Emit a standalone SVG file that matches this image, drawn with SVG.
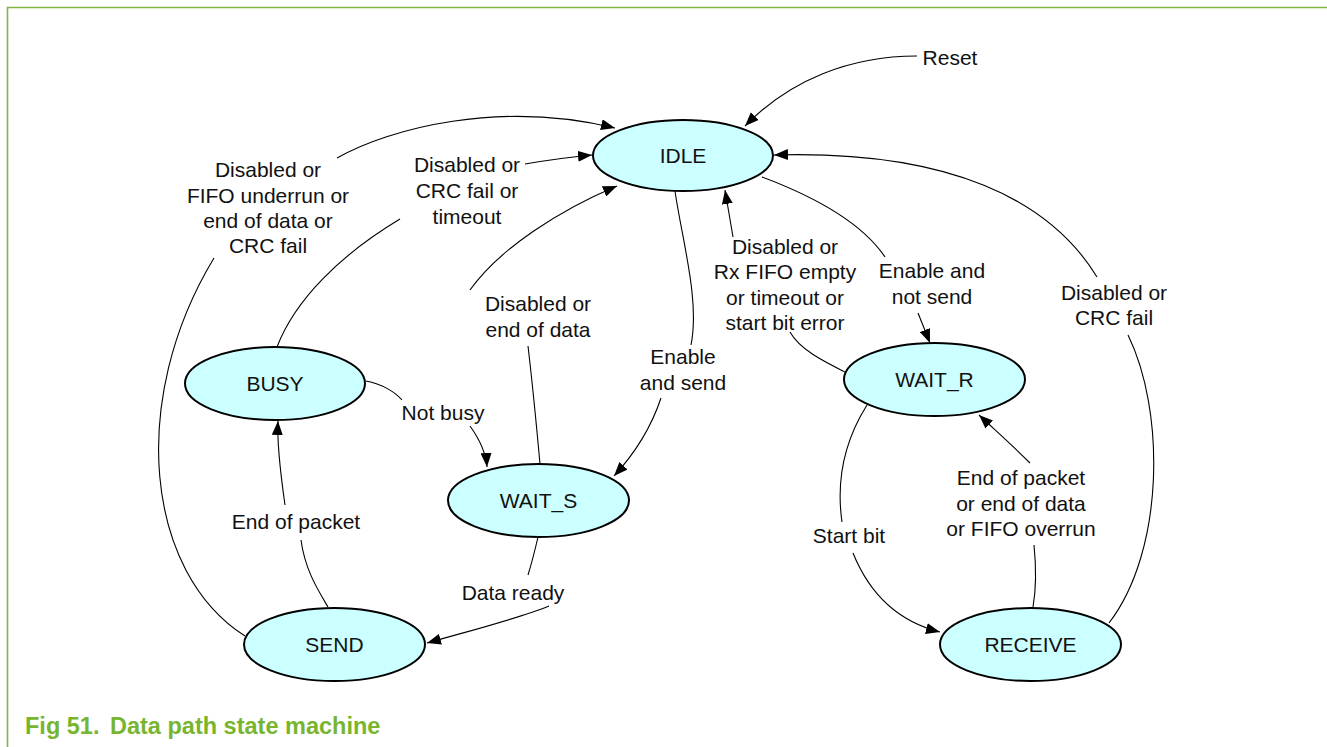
<svg xmlns="http://www.w3.org/2000/svg" width="1327" height="747" viewBox="0 0 1327 747">
<style>
.st ellipse{fill:#ccffff;stroke:#000;stroke-width:2}
.st text{font-family:"Liberation Sans",Arial,sans-serif;font-size:21px;fill:#111;text-anchor:middle}
.lbl{font-family:"Liberation Sans",Arial,sans-serif;font-size:21px;fill:#111;text-anchor:middle}
.cn path{fill:none;stroke:#000;stroke-width:1.1}
.ar{marker-end:url(#ah)}
.cap{font-family:"Liberation Sans",Arial,sans-serif;font-size:23.5px;font-weight:bold;fill:#78b52f}
</style>
<defs>
<marker id="ah" markerUnits="userSpaceOnUse" markerWidth="15" markerHeight="11" refX="14" refY="5.5" orient="auto">
<path d="M0,0 L14,5.5 L0,11 z" fill="#000"/>
</marker>
</defs>
<rect width="1327" height="747" fill="#fff"/>
<path d="M7.5,747 V7.5 H1327" fill="none" stroke="#82b545" stroke-width="1.6"/>

<g class="st">
<g id="IDLE"><ellipse cx="683" cy="155.5" rx="90" ry="35.5"/><text x="683" y="163">IDLE</text></g>
<g id="BUSY"><ellipse cx="275" cy="383.5" rx="90" ry="36.5"/><text x="275" y="391">BUSY</text></g>
<g id="WAIT_S"><ellipse cx="538.5" cy="500.5" rx="90.5" ry="36.5"/><text x="538.5" y="508">WAIT_S</text></g>
<g id="WAIT_R"><ellipse cx="934.5" cy="379.5" rx="90.5" ry="36.5"/><text x="934.5" y="387">WAIT_R</text></g>
<g id="SEND"><ellipse cx="334.5" cy="644.5" rx="90.5" ry="36.5"/><text x="334.5" y="652">SEND</text></g>
<g id="RECEIVE"><ellipse cx="1030.5" cy="644.5" rx="90.5" ry="36.5"/><text x="1030.5" y="652">RECEIVE</text></g>
</g>

<g class="cn">
<path class="ar" d="M917,56 C850,56 790,80 745,126"/>
<path class="ar" d="M337,158 C390,128 500,100 615,128"/>
<path d="M245,636 C145,572 128,400 214,258"/>
<path class="ar" d="M525,164 Q560,158 592,155"/>
<path d="M277,347 C295,300 340,255 400,219"/>
<path d="M540,464 C536,420 532,380 528,346"/>
<path class="ar" d="M470,290 C500,248 560,210 617,186"/>
<path d="M675,191 C682,240 700,300 691,345"/>
<path class="ar" d="M661,398 C652,425 638,450 614,476"/>
<path class="ar" d="M733,237 L725,190"/>
<path d="M845,372 C825,362 800,350 790,332"/>
<path d="M762,177 C810,195 860,220 885,257"/>
<path class="ar" d="M918,313 L930,343"/>
<path class="ar" d="M1097,277 C1050,200 950,150 774,155"/>
<path d="M1128,335 C1165,410 1165,550 1109,623"/>
<path d="M366,381 C382,384 395,392 402,400"/>
<path class="ar" d="M470,426 C480,440 486,452 487,467"/>
<path class="ar" d="M285,505 C280,470 277,440 278,421"/>
<path d="M328,607 C318,590 305,570 301,540"/>
<path d="M538,537 C535,550 532,562 528,575"/>
<path class="ar" d="M549,606 C520,618 480,628 427,643"/>
<path d="M867,405 C845,440 836,480 842,522"/>
<path class="ar" d="M853,553 C870,595 900,622 940,632"/>
<path d="M1033,607 C1036,590 1036,565 1034,545"/>
<path class="ar" d="M1030,463 C1012,445 995,430 979,415"/>
</g>

<g id="labels">
<text class="lbl" x="950" y="65">Reset</text>
<text class="lbl" x="268" y="177">Disabled or</text>
<text class="lbl" x="268" y="203">FIFO underrun or</text>
<text class="lbl" x="268" y="228">end of data or</text>
<text class="lbl" x="268" y="253">CRC fail</text>
<text class="lbl" x="467" y="172">Disabled or</text>
<text class="lbl" x="467" y="198">CRC fail or</text>
<text class="lbl" x="467" y="224">timeout</text>
<text class="lbl" x="538" y="311">Disabled or</text>
<text class="lbl" x="538" y="337">end of data</text>
<text class="lbl" x="683" y="364">Enable</text>
<text class="lbl" x="683" y="390">and send</text>
<text class="lbl" x="785" y="254">Disabled or</text>
<text class="lbl" x="785" y="279">Rx FIFO empty</text>
<text class="lbl" x="785" y="305">or timeout or</text>
<text class="lbl" x="785" y="330">start bit error</text>
<text class="lbl" x="932" y="278">Enable and</text>
<text class="lbl" x="932" y="304">not send</text>
<text class="lbl" x="1114" y="300">Disabled or</text>
<text class="lbl" x="1114" y="325">CRC fail</text>
<text class="lbl" x="443" y="420">Not busy</text>
<text class="lbl" x="296" y="529">End of packet</text>
<text class="lbl" x="513" y="600">Data ready</text>
<text class="lbl" x="849" y="543">Start bit</text>
<text class="lbl" x="1021" y="485">End of packet</text>
<text class="lbl" x="1021" y="511">or end of data</text>
<text class="lbl" x="1021" y="536">or FIFO overrun</text>
</g>

<text class="cap" x="25" y="734">Fig 51.</text>
<text class="cap" x="110" y="734">Data path state machine</text>
</svg>
